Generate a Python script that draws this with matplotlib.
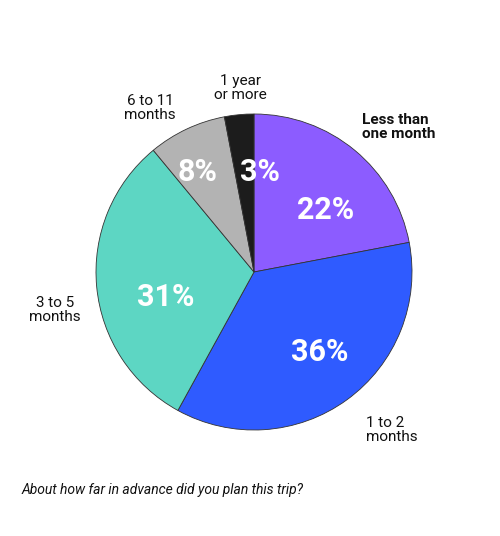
import matplotlib.pyplot as plt

shares = [22, 36, 31, 8, 3]
pct_labels = ['22%', '36%', '31%', '8%', '3%']
cat_labels = ['Less than\none month', '1 to 2\nmonths', '3 to 5\nmonths', '6 to 11\nmonths', '1 year\nor more']
colors = ['#8c5cff', '#2f5bff', '#5dd6c3', '#b3b3b3', '#1c1c1c']

W, H = 500, 536
fig = plt.figure(figsize=(5, 5.36), dpi=100)
cx, cy, r = 254, 272, 158
ax = fig.add_axes([(cx - r) / W, (H - cy - r) / H, 2 * r / W, 2 * r / H])
ax.pie(shares, colors=colors, startangle=90, counterclock=False,
       wedgeprops=dict(linewidth=0.6, edgecolor='#333333'))
ax.set_xlim(-1, 1)
ax.set_ylim(-1, 1)
ax.set_aspect('equal')

def px(x, y):
    return x / W, 1 - y / H

pct_pos = [(326, 210), (320, 352), (166, 297), (198, 172), (260, 172)]
for (x, y), t in zip(pct_pos, pct_labels):
    fig.text(*px(x, y), t, color='white', fontsize=22, fontweight='bold',
             ha='center', va='center', family='Roboto')

lab_pos = [(362, 127, 'left'), (366, 430, 'left'), (55, 310, 'center'),
           (150, 108, 'center'), (240, 88, 'center')]
for (x, y, ha), t in zip(lab_pos, cat_labels):
    fig.text(*px(x, y), t, fontsize=11, ha=ha, va='center', family='Roboto',
             color='#111111', linespacing=1.0,
             fontweight='bold' if t.startswith('Less') else 'normal')

fig.text(*px(22, 490), 'About how far in advance did you plan this trip?',
         fontsize=10, style='italic', family='Roboto', va='center', color='#111111')
fig.savefig('out.png', dpi=100, facecolor='white')
